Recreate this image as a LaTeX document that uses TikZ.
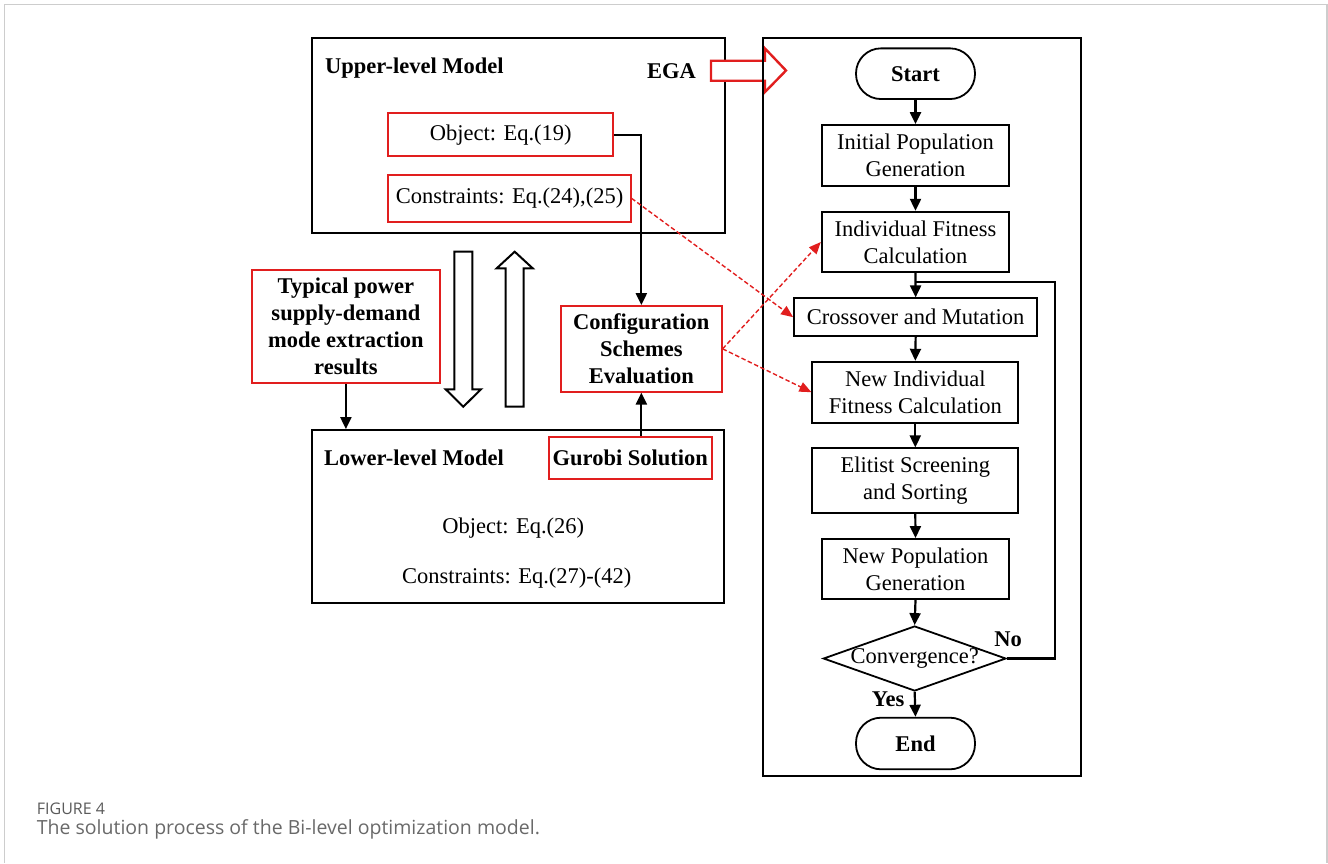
\documentclass[tikz,border=0pt]{standalone}
\usepackage{fontspec}
\setmainfont{Liberation Serif}
\newfontfamily\capfont{Open Sans}
\usetikzlibrary{shapes.geometric,arrows.meta}
\definecolor{myred}{RGB}{225,30,30}
\definecolor{framegray}{RGB}{205,205,205}
\definecolor{capgray}{RGB}{105,105,105}
\definecolor{labgray}{RGB}{90,90,90}
\begin{document}
\begin{tikzpicture}[x=1pt,y=-1pt,
  every node/.style={font=\fontsize{22.5}{27}\selectfont, inner sep=0pt, align=center},
  boldtext/.style={font=\fontsize{22.5}{27}\selectfont\bfseries},
  blkbox/.style={draw=black, line width=1.8pt},
  redbox/.style={draw=myred, line width=1.8pt},
  flowbox/.style={draw=black, line width=1.8pt},
  termbox/.style={draw=black, line width=1.8pt, rounded corners=25pt},
  arr/.style={line width=2.2pt, -{Triangle[length=12pt,width=11pt]}},
  plainline/.style={line width=2.2pt},
  redarr/.style={draw=myred, line width=1.4pt, dash pattern=on 4.5pt off 2.5pt, -{Triangle[length=12pt,width=10pt]}},
  blockarrow/.style={draw=black, line width=2pt, fill=white, line join=miter},
  redblock/.style={draw=myred, line width=2.4pt, fill=white, line join=miter}
]
\useasboundingbox (0,0) rectangle (1328,863);
% page border
\draw[framegray, line width=1.5pt] (4.5,863) -- (4.5,4.5) -- (1327,4.5) -- (1327,863);

% upper-level model
\node[blkbox, minimum width=413.3pt, minimum height=194.4pt] (upper) at (518.35,135.5) {};
\node[anchor=base west, boldtext] (uptitle) at (325,73.3) {Upper-level Model};
\node[anchor=base west, boldtext] (ega) at (647,78.3) {EGA};
\node[redbox, minimum width=225pt, minimum height=42.7pt] (obj) at (500.8,134.65) {Object: Eq.(19)};
\node[redbox, minimum width=242.4pt, minimum height=46.7pt] (cons) at (509.5,198.35) {Constraints: Eq.(24),(25)};

% red block arrow EGA
\draw[redblock] (711,60.7) -- (765,60.7) -- (765,48.5) -- (786,70.5) -- (765,92) -- (765,80.7) -- (711,80.7) -- cycle;

% typical box
\node[redbox, boldtext, minimum width=188.3pt, minimum height=113.3pt] (typ) at (345.9,326.65) {Typical power\\supply-demand\\mode extraction\\results};

% hollow block arrows
\draw[blockarrow] (454.3,251.7) -- (472.3,251.7) -- (472.3,389.3) -- (481,389.3) -- (463.3,406.7) -- (445.7,389.3) -- (454.3,389.3) -- cycle;
\draw[blockarrow] (505.7,406.7) -- (523.7,406.7) -- (523.7,268.3) -- (532.7,268.3) -- (514.7,251.7) -- (496.7,268.3) -- (505.7,268.3) -- cycle;

% configuration box
\node[redbox, boldtext, minimum width=160.7pt, minimum height=85.7pt] (config) at (641.35,348.85) {Configuration\\Schemes\\Evaluation};

% lower-level model
\node[blkbox, minimum width=412.6pt, minimum height=172.7pt] (lower) at (518,516.35) {};
\node[anchor=base west, boldtext] (lowtitle) at (324,465) {Lower-level Model};
\node[redbox, boldtext, minimum width=162.7pt, minimum height=42.6pt] (gurobi) at (630.3,458) {Gurobi Solution};
\node[anchor=base] (lobj) at (513.3,533.3) {Object: Eq.(26)};
\node[anchor=base] (lcons) at (516.7,583.3) {Constraints: Eq.(27)-(42)};

% connectors left part
\draw[arr] (obj.east) -| (config.north);
\draw[arr] (config.south |- gurobi.north) -- (config.south);
\draw[arr] (typ.south) -- (typ.south |- lower.north);

% flowchart frame
\node[blkbox, minimum width=317.4pt, minimum height=737.7pt] (frame) at (922,407.15) {};
\node[termbox, boldtext, minimum width=119pt, minimum height=50.7pt] (start) at (915.5,73.7) {Start};
\node[flowbox, minimum width=187.6pt, minimum height=61pt] (init) at (915.5,155.5) {Initial Population\\Generation};
\node[flowbox, minimum width=187.6pt, minimum height=60.6pt] (indiv) at (915.5,242) {Individual Fitness\\Calculation};
\node[flowbox, minimum width=243.3pt, minimum height=37.7pt] (cross) at (915.65,317.15) {Crossover and Mutation};
\node[flowbox, minimum width=206pt, minimum height=61pt] (newind) at (915.3,392.2) {New Individual\\Fitness Calculation};
\node[flowbox, minimum width=206pt, minimum height=64.4pt] (elite) at (915.3,480.5) {Elitist Screening\\and Sorting};
\node[flowbox, minimum width=187.6pt, minimum height=60.3pt] (newpop) at (915.5,569.15) {New Population\\Generation};
\node[diamond, draw=black, line width=1.8pt, minimum width=182.7pt, minimum height=65pt, inner sep=0pt] (conv) at (914.65,658.5) {};
\node (convtext) at (914.65,658.5) {Convergence?};
\node[termbox, boldtext, minimum width=119pt, minimum height=51.6pt] (endn) at (915.5,743.5) {End};
\node[anchor=base, boldtext] (yes) at (888,706) {Yes};
\node[anchor=base, boldtext] (no) at (1008,646) {No};

\coordinate (loopc) at (1055,282.3);
\draw[arr] (start.south) -- (init.north);
\draw[arr] (init.south) -- (indiv.north);
\draw[arr] (indiv.south) -- (cross.north);
\draw[arr] (cross.south) -- (newind.north);
\draw[arr] (newind.south) -- (elite.north);
\draw[arr] (elite.south) -- (newpop.north);
\draw[arr] (newpop.south) -- (conv.north);
\draw[arr] (conv.south) -- (endn.north);
\draw[plainline] (conv.east) -| (loopc) -- (indiv.south |- loopc);

% red dashed arrows
\draw[redarr] (cons.east) -- (cross.west);
\draw[redarr] (config.east) -- (indiv.west);
\draw[redarr] (config.east) -- (newind.west);

% caption
\node[anchor=base west, font=\capfont\fontsize{16}{19}\selectfont, text=labgray] (figlabel) at (36.7,814) {FIGURE 4};
\node[anchor=base west, font=\capfont\fontsize{19.5}{23}\selectfont, text=capgray] (caption) at (36.7,834) {The solution process of the Bi-level optimization model.};
\end{tikzpicture}
\end{document}
